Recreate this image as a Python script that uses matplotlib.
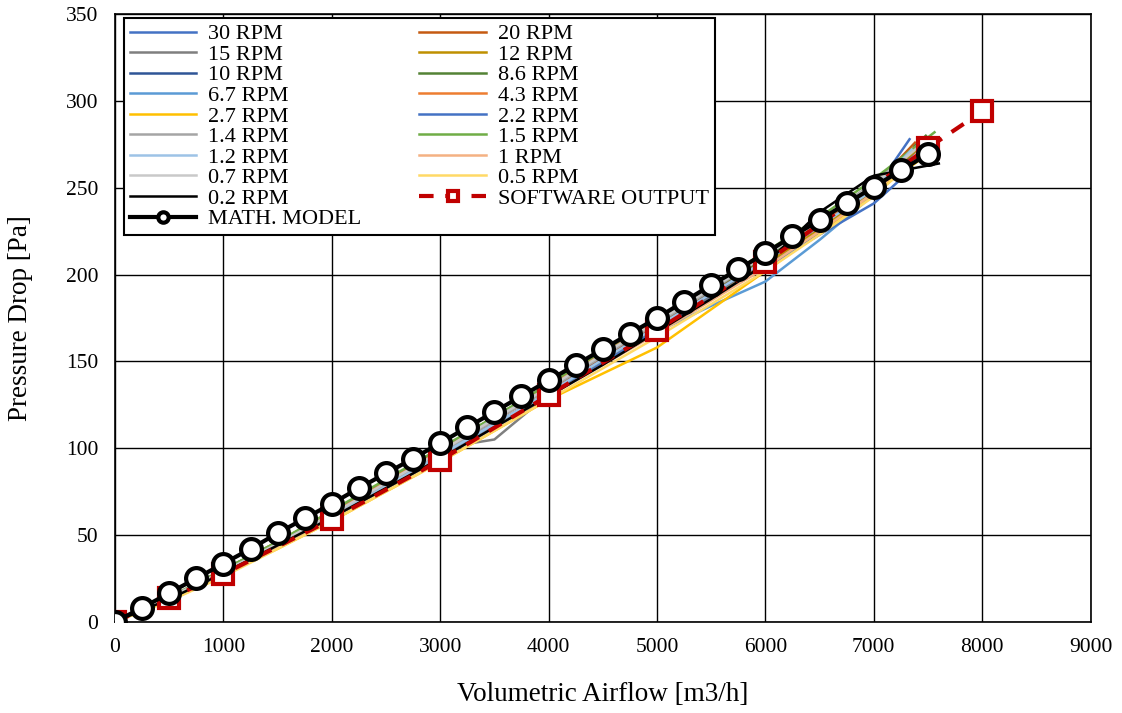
import numpy as np
import matplotlib.pyplot as plt

plt.rcParams['font.family'] = ['Liberation Serif', 'DejaVu Serif']

# measured pressure drop per drum speed, sampled every 500 m3/h up to 7000
flow = [0, 500, 1000, 1500, 2000, 2500, 3000, 3500, 4000, 4500, 5000, 5500, 6000, 6500, 7000]

p_30 = [0, 13, 28, 44, 61, 78, 95, 113, 131, 150, 168, 187, 205, 226, 248]
p_20 = [0, 14, 29, 45, 62, 80, 97, 116, 134, 152, 171, 190, 209, 229, 251]
p_15 = [0, 14, 29, 45, 63, 80, 100, 105, 131, 150, 169, 188, 207, 228, 250]
p_12 = [0, 13, 28, 43, 60, 77, 94, 113, 131, 149, 167, 186, 206, 226, 249]
p_10 = [0, 13, 28, 44, 61, 78, 96, 114, 132, 151, 170, 189, 208, 228, 250]
p_8_6 = [0, 14, 30, 46, 63, 81, 99, 118, 136, 154, 172, 191, 210, 230, 252]
p_6_7 = [0, 13, 28, 44, 61, 78, 95, 113, 131, 149, 167, 182, 196, 220, 246]
p_4_3 = [0, 14, 29, 46, 63, 81, 99, 118, 136, 155, 174, 193, 212, 230, 250]
p_2_7 = [0, 12, 27, 42, 58, 75, 92, 110, 128, 143, 158, 180, 202, 224, 247]
p_2_2 = [0, 13, 27, 43, 60, 77, 94, 112, 130, 149, 168, 186, 204, 223, 241]
p_1_4 = [0, 14, 29, 45, 62, 79, 97, 116, 134, 153, 172, 191, 211, 231, 253]
p_1_5 = [0, 14, 30, 46, 64, 82, 100, 118, 137, 156, 175, 194, 213, 233, 255]
p_1_2 = [0, 13, 28, 44, 61, 78, 96, 114, 132, 151, 170, 189, 208, 228, 249]
p_1 = [0, 13, 28, 43, 60, 77, 94, 112, 130, 148, 166, 185, 204, 225, 247]
p_0_7 = [0, 14, 29, 45, 62, 80, 98, 117, 135, 154, 173, 192, 211, 231, 252]
p_0_5 = [0, 12, 26, 42, 58, 75, 92, 110, 128, 146, 164, 183, 202, 223, 245]
p_0_2 = [0, 13, 28, 44, 60, 77, 94, 112, 130, 148, 167, 186, 206, 236, 257]

# last recorded point of each run
flow_end = [7330, 7380, 7420, 7450, 7400, 7480, 7300, 7360, 7400, 7250, 7450, 7560, 7350, 7400, 7420, 7300, 7600]
p_end = [278, 276, 272, 275, 270, 280, 268, 273, 265, 255, 277, 282, 272, 270, 274, 262, 264]

rpm_labels = ['30 RPM', '20 RPM', '15 RPM', '12 RPM', '10 RPM', '8.6 RPM', '6.7 RPM', '4.3 RPM',
              '2.7 RPM', '2.2 RPM', '1.4 RPM', '1.5 RPM', '1.2 RPM', '1 RPM', '0.7 RPM',
              '0.5 RPM', '0.2 RPM']
rpm_data = [p_30, p_20, p_15, p_12, p_10, p_8_6, p_6_7, p_4_3, p_2_7, p_2_2,
            p_1_4, p_1_5, p_1_2, p_1, p_0_7, p_0_5, p_0_2]
colors = ['#4472C4', '#C55A11', '#7F7F7F', '#BF9000', '#2F5597', '#548235', '#5B9BD5', '#ED7D31',
          '#FFC000', '#4472C4', '#A5A5A5', '#70AD47', '#9DC3E6', '#F4B183', '#C9C9C9',
          '#FFD966', '#000000']

# software output
sw_flow = [0, 500, 1000, 2000, 3000, 4000, 5000, 6000, 7500, 8000]
sw_p = [0, 13.5, 27.5, 59, 93, 130.5, 168, 207, 273, 294]

# mathematical model
model_flow = [0, 250, 500, 750, 1000, 1250, 1500, 1750, 2000, 2250, 2500, 2750, 3000, 3250,
              3500, 3750, 4000, 4250, 4500, 4750, 5000, 5250, 5500, 5750, 6000, 6250,
              6500, 6750, 7000, 7250, 7500]
model_p = [0, 8, 16.5, 25, 33.5, 42, 51, 59.5, 68, 77, 85.5, 94, 103, 112,
           121, 130, 139, 148, 157, 166, 175, 184.5, 194, 203, 212.5, 222,
           231.5, 241, 250.5, 260, 269.5]

fig = plt.figure(figsize=(11.22, 7.13), dpi=100)
ax = fig.add_axes([0.1025, 0.128, 0.8695, 0.852])

handles = {}
for lab, p, fe, pe, c in zip(rpm_labels, rpm_data, flow_end, p_end, colors):
    x = flow + [fe]
    y = p + [pe]
    handles[lab], = ax.plot(x, y, color=c, lw=1.8, zorder=2)

handles['SOFTWARE OUTPUT'], = ax.plot(sw_flow, sw_p, color='#C00000', lw=3, ls=(0, (3.5, 2.8)),
                                      marker='s', ms=14, mfc='white', mec='#C00000', mew=3,
                                      zorder=3)
handles['MATH. MODEL'], = ax.plot(model_flow, model_p, color='black', lw=3, marker='o', ms=15,
                                  mfc='white', mec='black', mew=3, zorder=4)

ax.set_xlim(0, 9000)
ax.set_ylim(0, 350)
ax.set_xticks(np.arange(0, 9001, 1000))
ax.set_yticks(np.arange(0, 351, 50))
ax.grid(True, color='black', lw=1)
ax.set_axisbelow(True)
ax.tick_params(length=0, labelsize=15.5, pad=12)
for s in ax.spines.values():
    s.set_linewidth(1.2)
ax.set_xlabel('Volumetric Airflow [m3/h]', fontsize=19.5, labelpad=18)
ax.set_ylabel('Pressure Drop [Pa]', fontsize=19.5, labelpad=24)

order = ['30 RPM', '15 RPM', '10 RPM', '6.7 RPM', '2.7 RPM', '1.4 RPM', '1.2 RPM', '0.7 RPM',
         '0.2 RPM', 'MATH. MODEL', '20 RPM', '12 RPM', '8.6 RPM', '4.3 RPM', '2.2 RPM',
         '1.5 RPM', '1 RPM', '0.5 RPM', 'SOFTWARE OUTPUT']
leg = ax.legend([handles[k] for k in order], order, ncol=2, loc='upper left',
                bbox_to_anchor=(0.0092, 0.9934), borderaxespad=0, fontsize=16, frameon=True,
                fancybox=False, edgecolor='black', framealpha=1, labelspacing=0.0,
                handlelength=3.0, handletextpad=0.55, columnspacing=2.6, markerscale=0.5,
                borderpad=0.25)
leg.get_frame().set_linewidth(1.5)

fig.savefig('out.png', dpi=100)
